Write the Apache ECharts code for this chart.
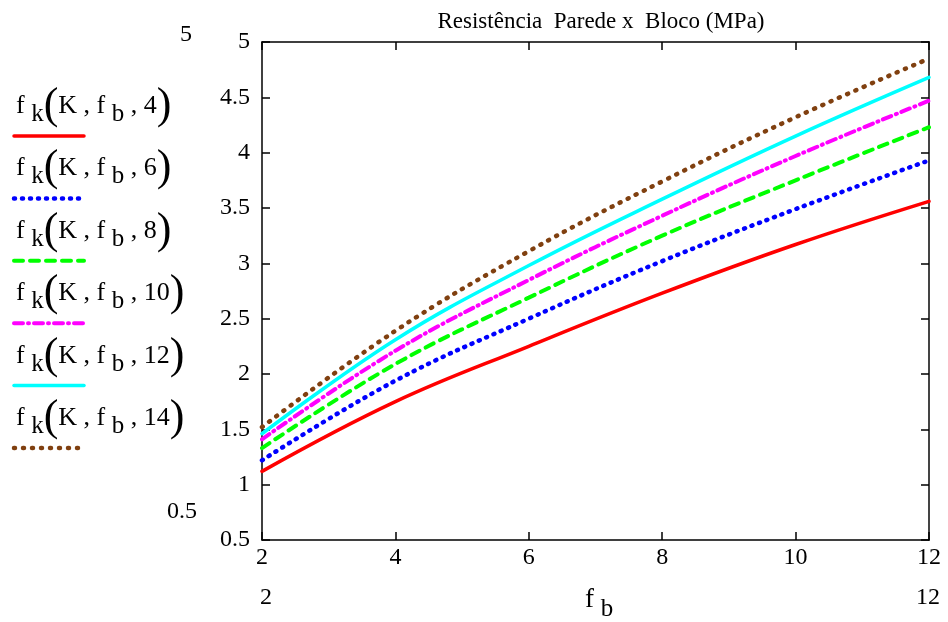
<!DOCTYPE html>
<html>
<head>
<meta charset="utf-8">
<script src="https://cdn.jsdelivr.net/npm/echarts@6/dist/echarts.min.js"></script>
<style>
  html, body { margin: 0; padding: 0; background: #fff; }
  #chart { width: 948px; height: 622px; }
</style>
</head>
<body>
<div id="chart"></div>
<script>
// values
const fb = [2, 4, 6, 8, 10, 12]
const fk4 = [1.12, 1.75, 2.25, 2.73, 3.17, 3.56]
const fk6 = [1.22, 1.94, 2.5, 3.02, 3.49, 3.93]
const fk8 = [1.33, 2.09, 2.69, 3.25, 3.75, 4.23]
const fk10 = [1.41, 2.21, 2.85, 3.43, 3.97, 4.47]
const fk12 = [1.46, 2.31, 2.98, 3.58, 4.15, 4.68]
const fk14 = [1.52, 2.39, 3.11, 3.74, 4.32, 4.85]
const yTicks = ['0.5', '1', '1.5', '2', '2.5', '3', '3.5', '4', '4.5', '5']

const serif = '"Liberation Serif", "DejaVu Serif", serif'

const curves = [
  { m: 4, data: fk4, color: '#ff0000', dash: 'solid', width: 3.5 },
  { m: 6, data: fk6, color: '#0000ff', dash: [1, 7], width: 4.5 },
  { m: 8, data: fk8, color: '#00ff00', dash: [9, 7], width: 4 },
  { m: 10, data: fk10, color: '#ff00ff', dash: [9, 5, 1, 5], width: 4 },
  { m: 12, data: fk12, color: '#00ffff', dash: 'solid', width: 3.5 },
  { m: 14, data: fk14, color: '#804010', dash: [1, 8], width: 4.5 }
]

const chart = echarts.init(document.getElementById('chart'))

const sub = { fontFamily: serif, fontSize: 25, color: '#000', padding: [16, 0, 0, 0] }
const base = { fontFamily: serif, fontSize: 26, color: '#000' }
const paren = { fontFamily: serif, fontSize: 44, color: '#000' }

const legendItems = []
curves.forEach((c, i) => {
  legendItems.push({
    type: 'text',
    style: {
      x: 16,
      y: 106 + 62.5 * i,
      verticalAlign: 'middle',
      text: '{f|f }{s|k}{p|(}{f|K , f }{s|b}{f| , ' + c.m + '}{p|)}',
      rich: { f: base, s: sub, p: paren }
    }
  })
  legendItems.push({
    type: 'line',
    shape: { x1: 14, y1: 136 + 62.4 * i, x2: 84, y2: 136 + 62.4 * i },
    style: {
      stroke: c.color,
      lineWidth: c.width,
      lineDash: c.dash === 'solid' ? null : c.dash,
      lineCap: 'round'
    }
  })
})

const axisLine = { show: true, lineStyle: { color: '#000', width: 1.5 } }
const tickIn = { show: true, inside: true, length: 8, lineStyle: { color: '#000', width: 1.5 } }

const option = {
  backgroundColor: '#fff',
  animation: false,
  title: {
    text: 'Resistência  Parede x  Bloco (MPa)',
    left: 596,
    textAlign: 'center',
    top: 5,
    textStyle: { fontFamily: serif, fontSize: 23, fontWeight: 'normal', color: '#000' }
  },
  grid: { left: 262, right: 19, top: 42, bottom: 82 },
  xAxis: [
    {
      type: 'value', min: 2, max: 12, interval: 2,
      axisLine, axisTick: tickIn, splitLine: { show: false },
      axisLabel: { fontFamily: serif, fontSize: 24, color: '#000', margin: 6 }
    },
    {
      type: 'value', position: 'top', min: 2, max: 12, interval: 2,
      axisLine, axisTick: tickIn, splitLine: { show: false },
      axisLabel: { show: false }
    }
  ],
  yAxis: [
    {
      type: 'value', min: 0.5, max: 5, interval: 0.5,
      axisLine, axisTick: tickIn, splitLine: { show: false },
      axisLabel: {
        fontFamily: serif, fontSize: 24, color: '#000', margin: 12,
        formatter: (v) => yTicks[Math.round((v - 0.5) / 0.5)]
      }
    },
    {
      type: 'value', position: 'right', min: 0.5, max: 5, interval: 0.5,
      axisLine: { show: true, lineStyle: { color: '#444', width: 2 } },
      axisTick: tickIn, splitLine: { show: false },
      axisLabel: { show: false }
    }
  ],
  series: curves.map(c => ({
    name: 'fk' + c.m,
    type: 'line',
    smooth: 0.4,
    showSymbol: false,
    data: fb.map((x, j) => [x, c.data[j]]),
    lineStyle: { color: c.color, width: c.width, type: c.dash, cap: 'round' }
  })),
  graphic: [
    ...legendItems,
    { type: 'text', style: { x: 186, y: 35, text: '5', align: 'center', verticalAlign: 'middle', font: '24px ' + serif, fill: '#000' } },
    { type: 'text', style: { x: 182, y: 512, text: '0.5', align: 'center', verticalAlign: 'middle', font: '24px ' + serif, fill: '#000' } },
    { type: 'text', style: { x: 266, y: 598, text: '2', align: 'center', verticalAlign: 'middle', font: '24px ' + serif, fill: '#000' } },
    { type: 'text', style: { x: 928, y: 598, text: '12', align: 'center', verticalAlign: 'middle', font: '24px ' + serif, fill: '#000' } },
    {
      type: 'text',
      style: {
        x: 585, y: 600, verticalAlign: 'middle',
        text: '{f|f }{s|b}',
        rich: { f: { fontFamily: serif, fontSize: 27, color: '#000' }, s: { fontFamily: serif, fontSize: 25, color: '#000', padding: [18, 0, 0, 0] } }
      }
    }
  ]
}

chart.setOption(option)
window.addEventListener('resize', () => chart.resize())
</script>
</body>
</html>
